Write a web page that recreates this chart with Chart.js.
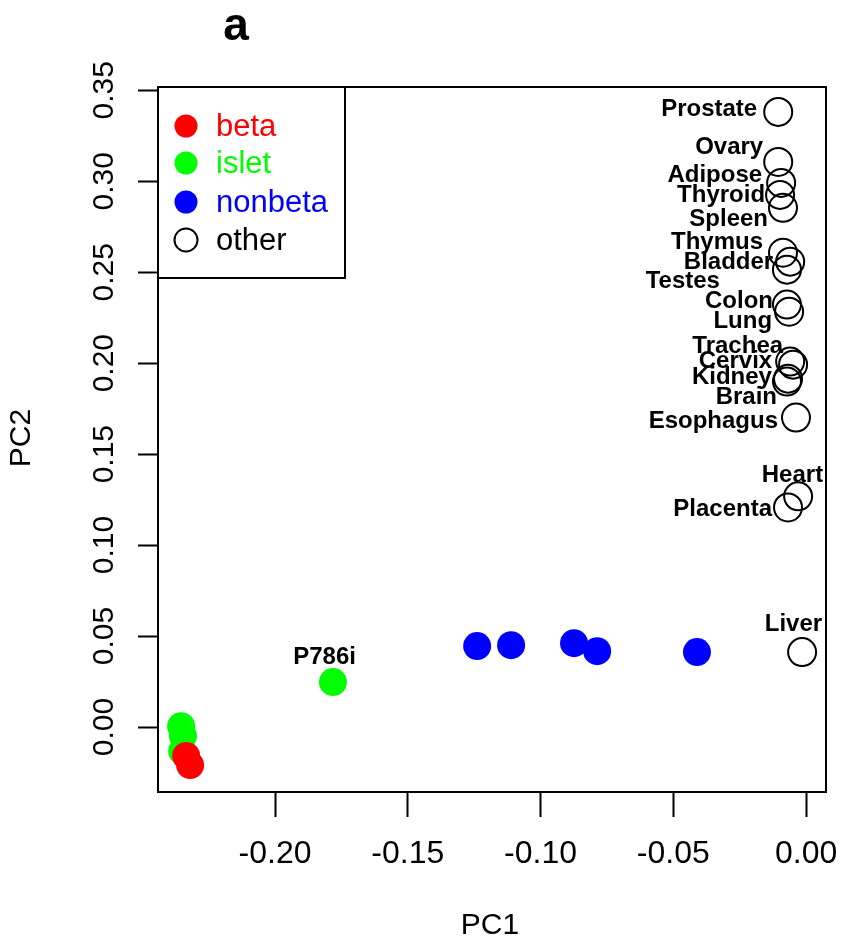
<!DOCTYPE html>
<html>
<head>
<meta charset="utf-8">
<script src="https://cdn.jsdelivr.net/npm/chart.js@4/dist/chart.umd.min.js"></script>
<style>
  html, body { margin: 0; padding: 0; background: #fff; }
  canvas { display: block; }
</style>
</head>
<body>
<canvas id="pcaChart" width="842" height="943"></canvas>
<script>
// PCA scores, PC1 / PC2
const betaPC1 = [-0.2335, -0.2320];
const betaPC2 = [-0.0159, -0.0209];

const isletPC1 = [-0.2354, -0.2347, -0.2350, -0.1782];
const isletPC2 = [0.0005, -0.0049, -0.0132, 0.0247];
const isletNames = ['', '', '', 'P786i'];

const nonbetaPC1 = [-0.1239, -0.1111, -0.0874, -0.0787, -0.0411];
const nonbetaPC2 = [0.0445, 0.0450, 0.0461, 0.0417, 0.0412];

const otherNames = ['Prostate', 'Ovary', 'Adipose', 'Thyroid', 'Spleen', 'Thymus', 'Bladder', 'Testes',
  'Colon', 'Lung', 'Trachea', 'Cervix', 'Kidney', 'Brain', 'Esophagus', 'Heart', 'Placenta', 'Liver'];
const otherPC1 = [-0.0105, -0.0105, -0.0094, -0.0098, -0.0087, -0.0087, -0.0060, -0.0072,
  -0.0072, -0.0064, -0.0049, -0.0060, -0.0072, -0.0068, -0.0038, -0.0030, -0.0068, -0.0015];
const otherPC2 = [0.3381, 0.3106, 0.2991, 0.2925, 0.2854, 0.2607, 0.2558, 0.2514,
  0.2322, 0.2283, 0.1992, 0.2009, 0.1899, 0.1915, 0.1701, 0.1268, 0.1207, 0.0412];

const xTicks = [-0.20, -0.15, -0.10, -0.05, 0.00];
const yTicks = [0.00, 0.05, 0.10, 0.15, 0.20, 0.25, 0.30, 0.35];

const legendLabels = ['beta', 'islet', 'nonbeta', 'other'];

// where each text label sits relative to its point (right edge, vertical centre), px
const labelNudge = {
  Prostate: [-21, -3], Ovary: [-15, -15], Adipose: [-19, -8], Thyroid: [-15, 0],
  Spleen: [-15, 12], Thymus: [-20, -10], Bladder: [-17, 1], Testes: [-67, 12],
  Colon: [-14, -3], Lung: [-17, 10], Trachea: [-10, -18], Cervix: [-18, 0],
  Kidney: [-15, -4], Brain: [-11, 19], Esophagus: [-18, 4], Heart: [25, -21],
  Placenta: [-16, 2], Liver: [20, -28], P786i: [23, -25]
};

const FONT = '"Liberation Sans", Arial, Helvetica, sans-serif';
Chart.defaults.font.family = FONT;
Chart.defaults.color = '#000';

const pts = (xs, ys) => xs.map((x, i) => ({ x: x, y: ys[i] }));

// no extra room for overhanging tick labels, the plot box is fixed
const fixBox = (s, w, h) => {
  if (w) s.width = w;
  if (h) s.height = h;
  s.paddingLeft = s.paddingRight = s.paddingTop = s.paddingBottom = 0;
};

// box, labels, legend and titles drawn the way base R plot() does
const rPlotDecor = {
  id: 'rPlotDecor',
  afterDatasetsDraw(chart) {
    const ctx = chart.ctx;
    const a = chart.chartArea;
    ctx.save();

    // point labels
    ctx.font = 'bold 24px ' + FONT;
    ctx.fillStyle = '#000';
    ctx.textAlign = 'right';
    ctx.textBaseline = 'middle';
    chart.data.datasets.forEach((ds, di) => {
      if (!ds.names) return;
      const meta = chart.getDatasetMeta(di);
      ds.names.forEach((name, i) => {
        if (!name) return;
        const p = meta.data[i];
        const n = labelNudge[name] || [-16, 0];
        ctx.fillText(name, p.x + n[0], p.y + n[1]);
      });
    });

    // frame
    ctx.strokeStyle = '#000';
    ctx.lineWidth = 2;
    ctx.strokeRect(a.left, a.top, a.right - a.left, a.bottom - a.top);

    // legend
    const lx = a.left, ly = a.top, lw = 187, lh = 191;
    ctx.strokeRect(lx, ly, lw, lh);
    const rows = [39, 76, 115, 153];
    ctx.font = '31px ' + FONT;
    ctx.textAlign = 'left';
    legendLabels.forEach((lab, i) => {
      const ds = chart.data.datasets.find(d => d.label === lab);
      const cy = ly + rows[i];
      ctx.beginPath();
      ctx.arc(lx + 28, cy, 11.5, 0, Math.PI * 2);
      if (lab === 'other') {
        ctx.lineWidth = 2;
        ctx.strokeStyle = '#000';
        ctx.stroke();
      } else {
        ctx.fillStyle = ds.backgroundColor;
        ctx.fill();
      }
      ctx.fillStyle = lab === 'other' ? '#000' : ds.backgroundColor;
      ctx.fillText(lab, lx + 58, cy + 1);
    });

    // panel letter and axis titles
    ctx.fillStyle = '#000';
    ctx.textAlign = 'center';
    ctx.textBaseline = 'alphabetic';
    ctx.font = 'bold 46px ' + FONT;
    ctx.fillText('a', 236, 40);

    ctx.font = '30px ' + FONT;
    ctx.textBaseline = 'middle';
    ctx.fillText('PC1', 490, 926);
    ctx.translate(22, 438);
    ctx.rotate(-Math.PI / 2);
    ctx.fillText('PC2', 0, 0);

    ctx.restore();
  }
};

const ctx = document.getElementById('pcaChart').getContext('2d');
const pcaChart = new Chart(ctx, {
  type: 'scatter',
  data: {
    datasets: [
      {
        label: 'beta',
        data: pts(betaPC1, betaPC2),
        backgroundColor: '#FF0000',
        borderWidth: 0,
        pointRadius: 14,
        order: 1
      },
      {
        label: 'islet',
        data: pts(isletPC1, isletPC2),
        names: isletNames,
        backgroundColor: '#00FF00',
        borderWidth: 0,
        pointRadius: 14,
        order: 2
      },
      {
        label: 'nonbeta',
        data: pts(nonbetaPC1, nonbetaPC2),
        backgroundColor: '#0000FF',
        borderWidth: 0,
        pointRadius: 14,
        order: 3
      },
      {
        label: 'other',
        data: pts(otherPC1, otherPC2),
        names: otherNames,
        backgroundColor: 'rgba(0,0,0,0)',
        borderColor: '#000',
        borderWidth: 2,
        pointRadius: 14,
        order: 4
      }
    ]
  },
  options: {
    responsive: false,
    animation: false,
    events: [],
    layout: { padding: { top: 87, right: 16, left: 0, bottom: 0 } },
    plugins: {
      legend: { display: false },
      tooltip: { enabled: false }
    },
    scales: {
      x: {
        type: 'linear',
        min: -0.2441,
        max: 0.0075,
        afterBuildTicks: s => { s.ticks = xTicks.map(v => ({ value: v })); },
        afterFit: s => fixBox(s, 0, 151),
        border: { display: false },
        grid: { drawOnChartArea: false, drawTicks: true, tickLength: 25, tickColor: '#000', tickWidth: 2 },
        ticks: {
          padding: 18,
          font: { size: 32 },
          color: '#000',
          callback: v => v.toFixed(2)
        }
      },
      y: {
        type: 'linear',
        min: -0.0357,
        max: 0.3518,
        afterBuildTicks: s => { s.ticks = yTicks.map(v => ({ value: v })); },
        afterFit: s => fixBox(s, 158, 0),
        border: { display: false },
        grid: { drawOnChartArea: false, drawTicks: true, tickLength: 20, tickColor: '#000', tickWidth: 2 },
        ticks: {
          padding: 4,
          minRotation: 90,
          maxRotation: 90,
          crossAlign: 'center',
          font: { size: 30 },
          color: '#000',
          callback: v => v.toFixed(2)
        }
      }
    }
  },
  plugins: [rPlotDecor]
});
</script>
</body>
</html>
